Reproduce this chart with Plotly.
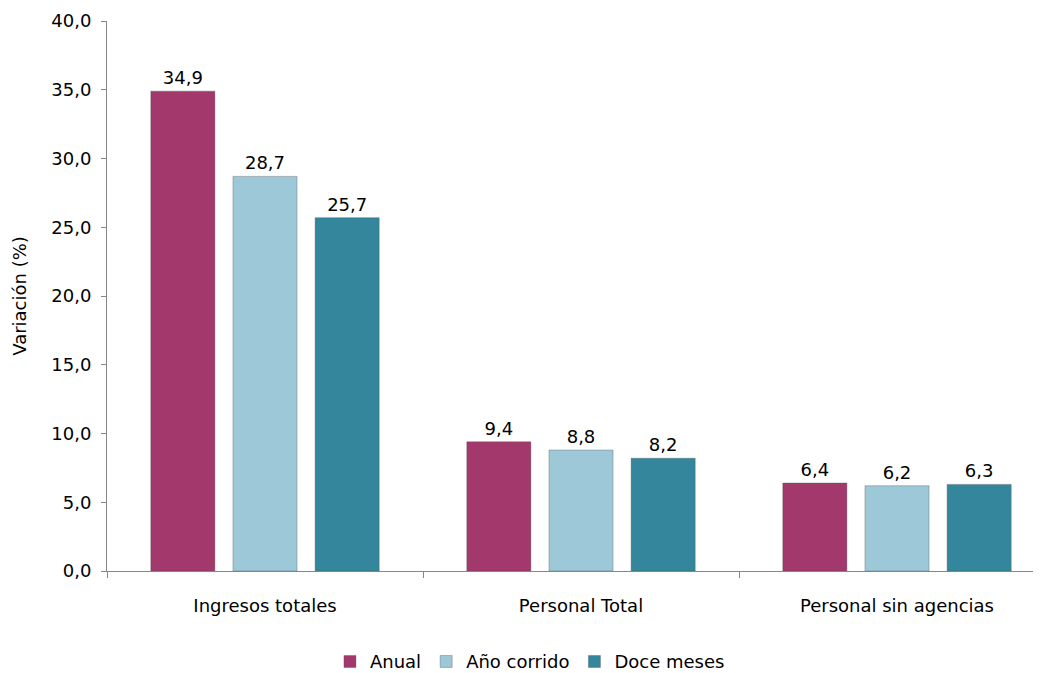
import plotly.graph_objects as go

categories = ["Ingresos totales", "Personal Total", "Personal sin agencias"]
series_names = ["Anual", "Año corrido", "Doce meses"]
anual = [34.9, 9.4, 6.4]
ano_corrido = [28.7, 8.8, 6.2]
doce_meses = [25.7, 8.2, 6.3]
y_ticks = [0, 5, 10, 15, 20, 25, 30, 35, 40]

colors = ["#A3386C", "#9CC8D8", "#33869C"]
values = [anual, ano_corrido, doce_meses]

FONT = "DejaVu Sans, sans-serif"
FS = 18

fig = go.Figure()
for name, vals, col in zip(series_names, values, colors):
    fig.add_trace(go.Bar(
        x=categories, y=vals, name=name,
        marker=dict(color=col, line=dict(color="rgba(80,80,80,0.35)", width=1)),
        texttemplate="%{y:.1f}", textposition="outside",
        textfont=dict(size=FS, color="#000000", family=FONT),
        cliponaxis=False,
    ))

fig.update_layout(
    width=1041, height=673,
    margin=dict(l=99, r=0, t=13, b=110),
    paper_bgcolor="white", plot_bgcolor="white",
    separators=",.",
    barmode="group", bargap=0.22, bargroupgap=0.22,
    font=dict(family=FONT, size=FS, color="#000000"),
    showlegend=True,
    legend=dict(orientation="h", x=0.449, xanchor="center", y=-0.165, yanchor="middle",
                font=dict(size=FS, family=FONT), itemwidth=30, traceorder="normal"),
    xaxis=dict(range=[-0.5, 2.481], showline=True, linecolor="#868686", linewidth=1,
               ticks="outside", tickson="boundaries", ticklen=6, tickcolor="#868686",
               showgrid=False, ticklabelstandoff=18, automargin=False,
               ticklabeloverflow="allow",
               tickfont=dict(size=FS, family=FONT)),
    yaxis=dict(range=[0, 40], tickvals=y_ticks, tickformat=".1f", showline=True,
               linecolor="#868686", linewidth=1, ticks="outside", ticklen=5,
               tickcolor="#868686", showgrid=False, zeroline=False,
               ticklabelstandoff=6, automargin=False, ticklabeloverflow="allow",
               tickfont=dict(size=FS, family=FONT),
               title=dict(text="Variación (%)", font=dict(size=FS, family=FONT), standoff=20)),
)

fig.write_html("out.html")
